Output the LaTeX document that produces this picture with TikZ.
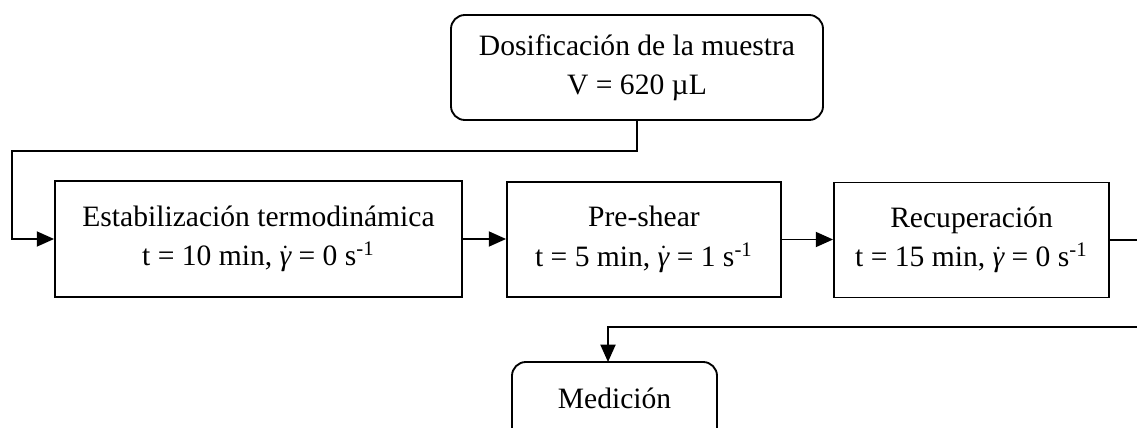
\documentclass[tikz,border=0pt]{standalone}
\usepackage{fontspec}
\setmainfont{Liberation Serif}
\usetikzlibrary{arrows.meta}
\newcommand\gdot{$\dot{\mbox{\itshape γ}}$}
\begin{document}
\begin{tikzpicture}[x=0.433pt,y=-0.433pt,
  font=\fontsize{12.8}{17}\selectfont,
  box/.style={draw, line width=0.8pt, align=center, inner sep=0pt},
  rbox/.style={box, rounded corners=6pt},
  conn/.style={line width=0.8pt},
  arr/.style={conn, -{Triangle[length=7.5pt,width=6.5pt]}}]
\useasboundingbox (0,0) rectangle (1137,428);
\clip (0,0) rectangle (1137,428);
\node[rbox, minimum width=372*0.433pt, minimum height=105*0.433pt] (dos) at (637,67.5)
  {Dosificación de la muestra\\V = 620 µL};
\node[box, minimum width=407*0.433pt, minimum height=116*0.433pt] (est) at (258.5,239)
  {Estabilización termodinámica\\t = 10 min, \gdot{} = 0 s\textsuperscript{-1}};
\node[box, minimum width=274*0.433pt, minimum height=115*0.433pt] (pre) at (644,239.5)
  {Pre-shear\\t = 5 min, \gdot{} = 1 s\textsuperscript{-1}};
\node[box, minimum width=275*0.433pt, minimum height=115*0.433pt] (rec) at (971.5,240)
  {Recuperación\\t = 15 min, \gdot{} = 0 s\textsuperscript{-1}};
\node[rbox, minimum width=205*0.433pt, minimum height=80*0.433pt, text depth=3.5pt] (med) at (614.5,402)
  {Medición};
\coordinate (r1) at (1137,240);
\coordinate (r2) at (1137,327);
\coordinate (mtop) at (608,362);
\draw[arr] (dos.south) -- (637,151) -- (12,151) |- (est.west);
\draw[arr] (est.east) -- (pre.west |- est.east);
\draw[arr] (pre.east) -- (rec.west |- pre.east);
\draw[conn] (rec.east) -- (r1 |- rec.east);
\draw[arr] (r2) -| (mtop);
\end{tikzpicture}
\end{document}
